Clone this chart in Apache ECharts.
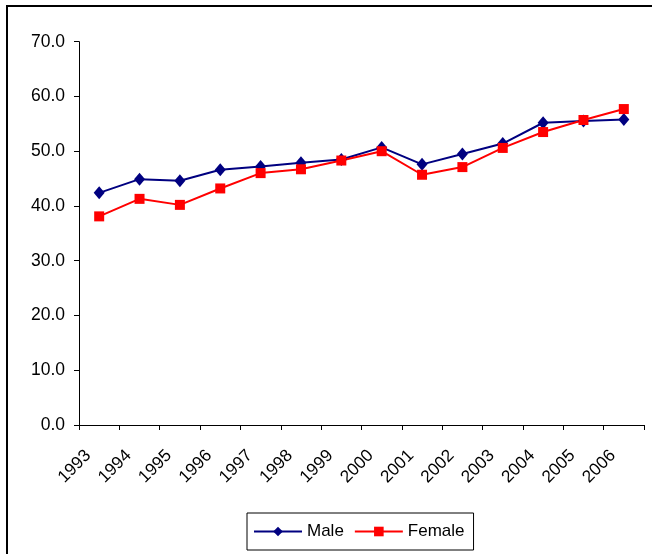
<!DOCTYPE html>
<html>
<head>
<meta charset="utf-8">
<script src="https://cdn.jsdelivr.net/npm/echarts@6/dist/echarts.min.js"></script>
<style>
html,body{margin:0;padding:0;background:#fff;}
#chart{width:652px;height:554px;}
</style>
</head>
<body>
<div id="chart"></div>
<script>
const years = ['1993','1994','1995','1996','1997','1998','1999','2000','2001','2002','2003','2004','2005','2006'];
const male   = [42.4, 44.9, 44.6, 46.6, 47.2, 47.9, 48.5, 50.7, 47.6, 49.5, 51.4, 55.2, 55.5, 55.8];
const female = [38.1, 41.3, 40.2, 43.2, 46.0, 46.7, 48.3, 50.0, 45.7, 47.1, 50.6, 53.5, 55.7, 57.7];
const yTicks = [0, 10, 20, 30, 40, 50, 60, 70];

const FONT = '"Liberation Sans", Arial, sans-serif';
const chart = echarts.init(document.getElementById('chart'), null, {renderer: 'canvas'});
chart.setOption({
  animation: false,
  backgroundColor: '#fff',
  graphic: [{
    type: 'rect',
    shape: {x: 7, y: 6, width: 700, height: 600},
    style: {fill: 'none', stroke: '#000', lineWidth: 2},
    silent: true
  }],
  grid: {left: 79, top: 41.7, right: 8, bottom: 129, containLabel: false},
  legend: {
    data: ['Male', 'Female'],
    left: 247, top: 513,
    orient: 'horizontal',
    padding: [10, 9, 10, 6],
    itemWidth: 48, itemHeight: 12, itemGap: 10,
    borderColor: '#000', borderWidth: 1,
    textStyle: {fontFamily: FONT, fontSize: 17, color: '#000'}
  },
  xAxis: {
    type: 'category',
    data: years,
    boundaryGap: true,
    axisLine: {lineStyle: {color: '#000', width: 1}},
    axisTick: {show: true, length: 5, alignWithLabel: false, lineStyle: {color: '#000'}},
    axisLabel: {rotate: 45, margin: 17, padding: [0, 15.5, 0, 0], interval: 0,
      fontFamily: FONT, fontSize: 17.3, color: '#000'},
    splitLine: {show: false}
  },
  yAxis: {
    type: 'value',
    min: yTicks[0], max: yTicks[yTicks.length - 1], interval: 10,
    axisLine: {show: true, lineStyle: {color: '#000', width: 1}},
    axisTick: {show: true, length: 5, lineStyle: {color: '#000'}},
    axisLabel: {margin: 14, fontFamily: FONT, fontSize: 17.5, color: '#000',
      formatter: v => v.toFixed(1)},
    splitLine: {show: false}
  },
  series: [
    {
      name: 'Male', type: 'line', data: male,
      symbol: 'diamond', symbolSize: [11, 13],
      lineStyle: {color: '#000080', width: 2},
      itemStyle: {color: '#000080'}
    },
    {
      name: 'Female', type: 'line', data: female,
      symbol: 'rect', symbolSize: 10,
      lineStyle: {color: '#ff0000', width: 2},
      itemStyle: {color: '#ff0000'}
    }
  ]
});
</script>
</body>
</html>
